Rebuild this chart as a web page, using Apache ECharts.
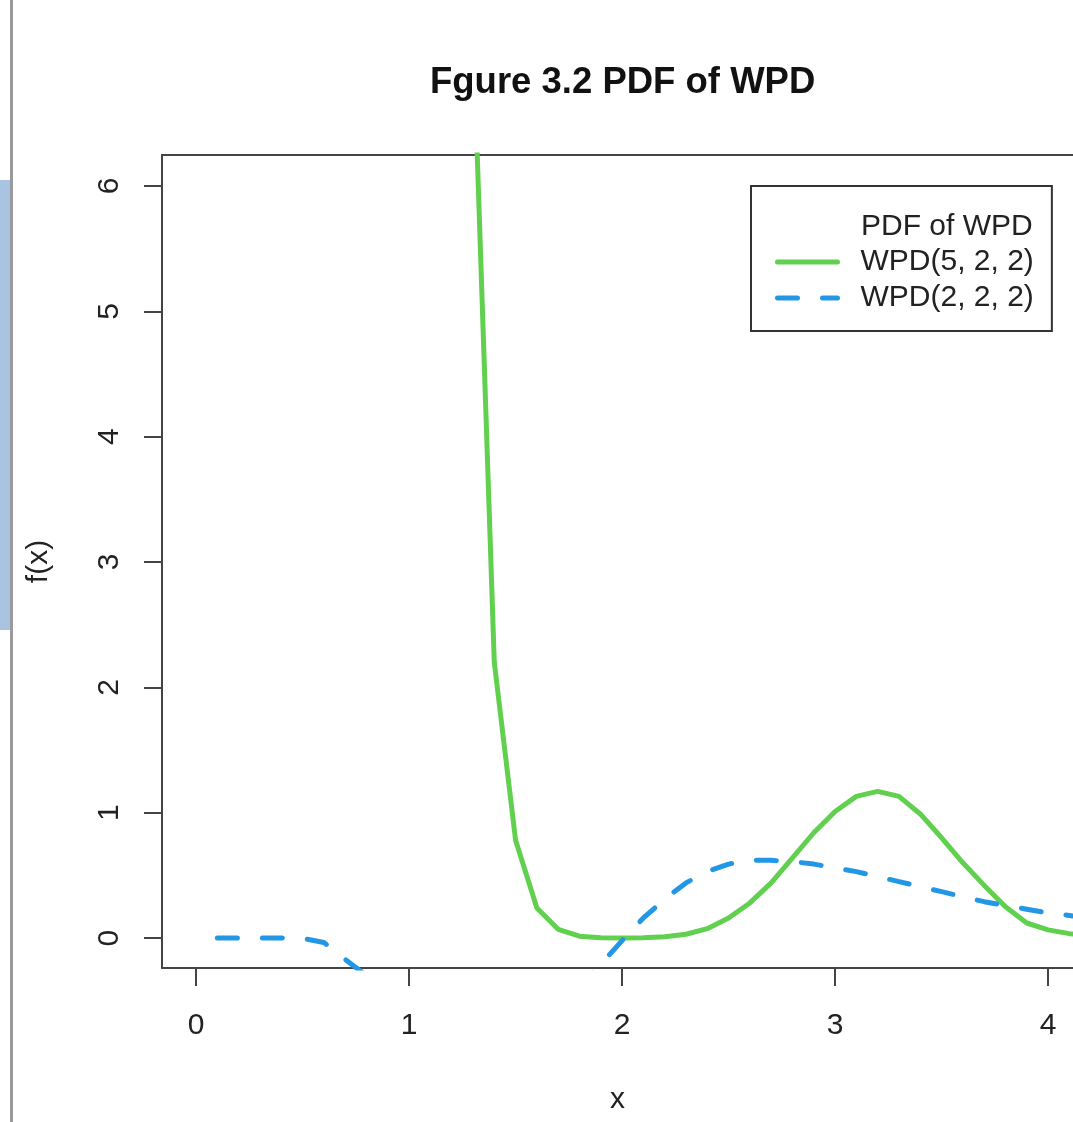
<!DOCTYPE html>
<html>
<head>
<meta charset="utf-8">
<script src="https://cdn.jsdelivr.net/npm/echarts@6/dist/echarts.min.js"></script>
<style>
  html, body { margin: 0; padding: 0; background: #fff; }
  #main { width: 1073px; height: 1122px; }
</style>
</head>
<body>
<div id="main"></div>
<script>
// WPD(5, 2, 2)
var greenX = [1.3, 1.4, 1.5, 1.6, 1.7, 1.8, 1.9, 2.0, 2.1, 2.2, 2.3, 2.4, 2.5, 2.6, 2.7, 2.8, 2.9,
              3.0, 3.1, 3.2, 3.3, 3.4, 3.5, 3.6, 3.7, 3.8, 3.9, 4.0, 4.1, 4.2, 4.3];
var greenY = [7.26, 2.2, 0.78, 0.24, 0.07, 0.015, 0.002, 0.0, 0.002, 0.01, 0.03, 0.075, 0.16, 0.28, 0.44, 0.64, 0.84,
              1.01, 1.13, 1.17, 1.13, 0.99, 0.80, 0.60, 0.42, 0.25, 0.12, 0.065, 0.035, 0.02, 0.01];
// WPD(2, 2, 2)  (null = below the plot, not drawn)
var blueX = [0.1, 0.2, 0.3, 0.4, 0.5, 0.6, 0.7, 0.8, 0.9, 1.8, 1.9, 2.0, 2.1, 2.2, 2.3, 2.4, 2.5, 2.6, 2.7, 2.8, 2.9,
             3.0, 3.1, 3.2, 3.3, 3.4, 3.5, 3.6, 3.7, 3.8, 3.9, 4.0, 4.1, 4.2, 4.3];
var blueY = [0, 0, 0, 0, -0.003, -0.035, -0.17, -0.3, null, -0.4, -0.21, -0.02, 0.16, 0.31, 0.44, 0.53, 0.59, 0.62, 0.62, 0.61, 0.59,
             0.56, 0.53, 0.49, 0.45, 0.41, 0.37, 0.33, 0.29, 0.26, 0.23, 0.20, 0.18, 0.16, 0.14];
var xTicks = [0, 1, 2, 3, 4];
var yTicks = [0, 1, 2, 3, 4, 5, 6];

function pairs(xs, ys) {
    var out = [];
    for (var i = 0; i < xs.length; i++) out.push([xs[i], ys[i]]);
    return out;
}

var font = '"Liberation Sans", Arial, sans-serif';
var axisCol = '#444';
var xMin = -0.16, xMax = 4.117;

var myChart = echarts.init(document.getElementById('main'));
var option = {
    backgroundColor: '#fff',
    animation: false,
    title: {
        text: 'Fgure 3.2 PDF of WPD',
        left: 430, top: 64, padding: 0,
        textStyle: { fontFamily: font, fontSize: 36.5, fontWeight: 'bold', color: '#111' }
    },
    legend: {
        orient: 'vertical',
        left: 751, top: 186,
        padding: [61, 18, 18, 24],
        borderColor: '#333', borderWidth: 2,
        itemWidth: 60, itemHeight: 14, itemGap: 6,
        itemStyle: { opacity: 0 },
        lineStyle: { width: 5, cap: 'round' },
        textStyle: { fontFamily: font, fontSize: 30, lineHeight: 30, color: '#222', padding: [0, 0, 0, 18] },
        data: ['WPD(5, 2, 2)', 'WPD(2, 2, 2)']
    },
    graphic: [
        // screenshot edge on the left
        { type: 'rect', left: 0, top: 180, shape: { width: 10, height: 450 }, style: { fill: '#a9c3e3' } },
        { type: 'rect', left: 10, top: 0, shape: { width: 3, height: 1122 }, style: { fill: '#9a9a9a' } },
        { type: 'text', left: 861, top: 212, style: { text: 'PDF of WPD', font: '30px ' + font, fill: '#222' } }
    ],
    grid: { left: 162, top: 155, right: 0, height: 813 },
    xAxis: [{
        type: 'value', min: xMin, max: xMax, position: 'bottom',
        name: 'x', nameLocation: 'middle', nameGap: 117,
        nameTextStyle: { fontFamily: font, fontSize: 30, color: '#222' },
        axisLine: { show: true, onZero: false, lineStyle: { color: axisCol, width: 2 } },
        splitLine: { show: false },
        axisTick: { show: true, length: 18, customValues: xTicks, lineStyle: { color: axisCol, width: 2 } },
        axisLabel: { customValues: xTicks, margin: 43, fontFamily: font, fontSize: 30, color: '#222' }
    }, {
        type: 'value', min: xMin, max: xMax, position: 'top',
        axisLine: { show: true, onZero: false, lineStyle: { color: axisCol, width: 2 } },
        splitLine: { show: false }, axisTick: { show: false }, axisLabel: { show: false }
    }],
    yAxis: {
        type: 'value', min: -0.239, max: 6.247,
        name: 'f(x)', nameLocation: 'middle', nameGap: 108, nameRotate: 90,
        nameTextStyle: { fontFamily: font, fontSize: 30, color: '#222' },
        axisLine: { show: true, onZero: false, lineStyle: { color: axisCol, width: 2 } },
        splitLine: { show: false },
        axisTick: { show: true, length: 18, customValues: yTicks, lineStyle: { color: axisCol, width: 2 } },
        axisLabel: { customValues: yTicks, rotate: 90, margin: 37, fontFamily: font, fontSize: 30, color: '#222' }
    },
    series: [
        {
            name: 'WPD(5, 2, 2)', type: 'line', symbol: 'none', clip: true,
            data: pairs(greenX, greenY),
            lineStyle: { color: '#61D04F', width: 5, cap: 'round', join: 'round' },
            itemStyle: { color: '#61D04F' }
        },
        {
            name: 'WPD(2, 2, 2)', type: 'line', symbol: 'none', clip: true, connectNulls: false,
            data: pairs(blueX, blueY),
            lineStyle: { color: '#2297E6', width: 5, type: [20, 25], cap: 'round', join: 'round' },
            itemStyle: { color: '#2297E6' }
        }
    ]
};
myChart.setOption(option);
</script>
</body>
</html>
